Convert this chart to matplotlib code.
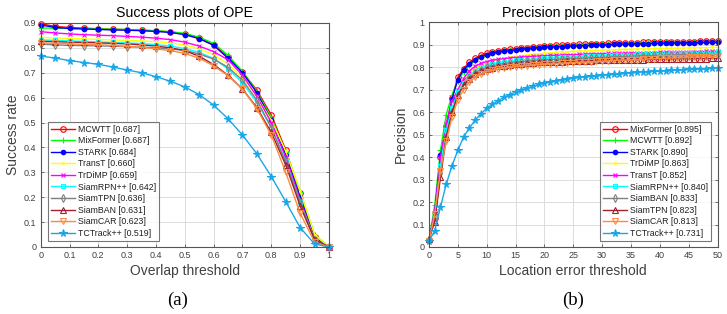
import matplotlib
matplotlib.use("Agg")
import matplotlib.pyplot as plt
import numpy as np

plt.rcParams['font.family'] = ['Liberation Sans', 'DejaVu Sans']

# ---------------- data ----------------
overlap_thr = [0.0, 0.05, 0.1, 0.15, 0.2, 0.25, 0.3, 0.35, 0.4, 0.45, 0.5,
               0.55, 0.6, 0.65, 0.7, 0.75, 0.8, 0.85, 0.9, 0.95, 1.0]

success_labels = ["MCWTT [0.687]", "MixFormer [0.687]", "STARK [0.684]", "TransT [0.660]",
                  "TrDiMP [0.659]", "SiamRPN++ [0.642]", "SiamTPN [0.636]", "SiamBAN [0.631]",
                  "SiamCAR [0.623]", "TCTrack++ [0.519]"]

succ_1 = [0.897, 0.886, 0.882, 0.879, 0.877, 0.875, 0.873, 0.871, 0.868, 0.864, 0.856, 0.840, 0.812, 0.765, 0.703, 0.630, 0.530, 0.390, 0.215, 0.040, 0.0]
succ_2 = [0.880, 0.879, 0.878, 0.877, 0.876, 0.875, 0.874, 0.872, 0.869, 0.865, 0.858, 0.843, 0.818, 0.770, 0.705, 0.625, 0.520, 0.380, 0.220, 0.050, 0.0]
succ_3 = [0.892, 0.882, 0.878, 0.876, 0.874, 0.872, 0.871, 0.869, 0.866, 0.862, 0.853, 0.837, 0.810, 0.758, 0.700, 0.620, 0.510, 0.370, 0.200, 0.035, 0.0]
succ_4 = [0.842, 0.840, 0.838, 0.836, 0.834, 0.832, 0.830, 0.828, 0.825, 0.820, 0.812, 0.797, 0.772, 0.735, 0.682, 0.605, 0.510, 0.385, 0.225, 0.050, 0.0]
succ_5 = [0.865, 0.860, 0.856, 0.853, 0.851, 0.849, 0.846, 0.843, 0.839, 0.833, 0.823, 0.807, 0.785, 0.752, 0.690, 0.605, 0.500, 0.360, 0.190, 0.030, 0.0]
succ_6 = [0.832, 0.830, 0.828, 0.826, 0.824, 0.822, 0.820, 0.817, 0.813, 0.807, 0.797, 0.782, 0.757, 0.715, 0.660, 0.580, 0.480, 0.345, 0.180, 0.030, 0.0]
succ_7 = [0.815, 0.812, 0.810, 0.809, 0.808, 0.807, 0.805, 0.803, 0.800, 0.796, 0.790, 0.775, 0.755, 0.722, 0.670, 0.590, 0.480, 0.340, 0.180, 0.030, 0.0]
succ_8 = [0.826, 0.825, 0.823, 0.822, 0.820, 0.818, 0.816, 0.812, 0.807, 0.800, 0.789, 0.766, 0.733, 0.690, 0.635, 0.560, 0.460, 0.330, 0.165, 0.030, 0.0]
succ_9 = [0.820, 0.818, 0.816, 0.814, 0.812, 0.810, 0.806, 0.802, 0.796, 0.789, 0.778, 0.758, 0.728, 0.688, 0.635, 0.555, 0.450, 0.300, 0.135, 0.020, 0.0]
succ_10 = [0.767, 0.759, 0.749, 0.741, 0.734, 0.723, 0.711, 0.700, 0.684, 0.666, 0.643, 0.612, 0.570, 0.515, 0.450, 0.374, 0.283, 0.182, 0.078, 0.012, 0.0]

loc_thr = list(range(0, 51))

precision_labels = ["MixFormer [0.895]", "MCWTT [0.892]", "STARK [0.890]", "TrDiMP [0.863]",
                    "TransT [0.852]", "SiamRPN++ [0.840]", "SiamBAN [0.833]", "SiamTPN [0.823]",
                    "SiamCAR [0.813]", "TCTrack++ [0.731]"]

prec_1 = [0.030, 0.130, 0.400, 0.540, 0.665, 0.755, 0.795, 0.822, 0.840, 0.853, 0.862,
          0.868, 0.873, 0.877, 0.880, 0.883, 0.886, 0.888, 0.891, 0.893, 0.895,
          0.897, 0.898, 0.899, 0.900, 0.901, 0.902, 0.903, 0.904, 0.905, 0.906,
          0.907, 0.907, 0.908, 0.909, 0.909, 0.910, 0.911, 0.911, 0.912, 0.912,
          0.913, 0.913, 0.914, 0.914, 0.915, 0.915, 0.916, 0.916, 0.917, 0.917]
prec_2 = [0.030, 0.185, 0.430, 0.590, 0.677, 0.740, 0.780, 0.810, 0.830, 0.845, 0.855,
          0.862, 0.868, 0.872, 0.876, 0.879, 0.882, 0.885, 0.888, 0.890, 0.892,
          0.894, 0.895, 0.896, 0.897, 0.898, 0.899, 0.900, 0.901, 0.902, 0.903,
          0.904, 0.905, 0.906, 0.906, 0.907, 0.908, 0.908, 0.909, 0.910, 0.910,
          0.911, 0.911, 0.912, 0.912, 0.913, 0.913, 0.914, 0.914, 0.915, 0.915]
prec_3 = [0.030, 0.150, 0.410, 0.520, 0.660, 0.745, 0.790, 0.815, 0.835, 0.848, 0.857,
          0.863, 0.868, 0.872, 0.875, 0.878, 0.881, 0.884, 0.886, 0.888, 0.890,
          0.891, 0.892, 0.893, 0.894, 0.895, 0.896, 0.897, 0.898, 0.899, 0.900,
          0.901, 0.902, 0.903, 0.903, 0.904, 0.905, 0.905, 0.906, 0.907, 0.907,
          0.908, 0.908, 0.909, 0.909, 0.910, 0.910, 0.911, 0.911, 0.912, 0.912]
prec_4 = [0.030, 0.120, 0.330, 0.500, 0.600, 0.680, 0.740, 0.770, 0.795, 0.810, 0.820,
          0.828, 0.835, 0.840, 0.845, 0.849, 0.852, 0.855, 0.858, 0.861, 0.863,
          0.865, 0.867, 0.869, 0.870, 0.872, 0.873, 0.874, 0.875, 0.876, 0.877,
          0.878, 0.879, 0.880, 0.880, 0.881, 0.882, 0.882, 0.883, 0.884, 0.884,
          0.885, 0.885, 0.886, 0.886, 0.887, 0.887, 0.888, 0.888, 0.889, 0.889]
prec_5 = [0.030, 0.160, 0.400, 0.550, 0.650, 0.700, 0.750, 0.785, 0.805, 0.818, 0.826,
          0.832, 0.836, 0.839, 0.842, 0.844, 0.846, 0.848, 0.849, 0.851, 0.852,
          0.853, 0.854, 0.855, 0.856, 0.857, 0.858, 0.859, 0.860, 0.860, 0.861,
          0.862, 0.862, 0.863, 0.864, 0.864, 0.865, 0.865, 0.866, 0.866, 0.867,
          0.867, 0.868, 0.868, 0.869, 0.869, 0.870, 0.870, 0.871, 0.871, 0.872]
prec_6 = [0.030, 0.130, 0.360, 0.520, 0.620, 0.690, 0.730, 0.760, 0.785, 0.800, 0.810,
          0.816, 0.821, 0.825, 0.828, 0.831, 0.833, 0.835, 0.837, 0.839, 0.840,
          0.842, 0.843, 0.845, 0.846, 0.847, 0.848, 0.849, 0.850, 0.851, 0.852,
          0.853, 0.854, 0.855, 0.856, 0.857, 0.858, 0.858, 0.859, 0.860, 0.861,
          0.861, 0.862, 0.863, 0.863, 0.864, 0.865, 0.865, 0.866, 0.866, 0.867]
prec_7 = [0.030, 0.120, 0.330, 0.490, 0.600, 0.675, 0.720, 0.755, 0.775, 0.790, 0.800,
          0.807, 0.813, 0.817, 0.821, 0.824, 0.826, 0.828, 0.830, 0.832, 0.833,
          0.835, 0.836, 0.838, 0.839, 0.840, 0.841, 0.842, 0.843, 0.844, 0.845,
          0.846, 0.847, 0.848, 0.849, 0.850, 0.851, 0.852, 0.852, 0.853, 0.854,
          0.855, 0.855, 0.856, 0.857, 0.857, 0.858, 0.859, 0.859, 0.860, 0.861]
prec_8 = [0.035, 0.113, 0.310, 0.490, 0.600, 0.675, 0.720, 0.750, 0.770, 0.783, 0.792,
          0.799, 0.804, 0.808, 0.811, 0.814, 0.816, 0.818, 0.820, 0.822, 0.823,
          0.824, 0.825, 0.826, 0.827, 0.828, 0.829, 0.829, 0.830, 0.831, 0.831,
          0.832, 0.832, 0.833, 0.834, 0.834, 0.835, 0.835, 0.836, 0.836, 0.837,
          0.837, 0.837, 0.838, 0.838, 0.838, 0.839, 0.839, 0.839, 0.840, 0.840]
prec_9 = [0.025, 0.145, 0.340, 0.470, 0.580, 0.655, 0.700, 0.735, 0.755, 0.770, 0.780,
          0.787, 0.792, 0.797, 0.800, 0.803, 0.806, 0.808, 0.810, 0.812, 0.813,
          0.815, 0.817, 0.818, 0.820, 0.821, 0.823, 0.824, 0.825, 0.827, 0.828,
          0.829, 0.831, 0.832, 0.833, 0.834, 0.835, 0.836, 0.838, 0.839, 0.840,
          0.841, 0.842, 0.843, 0.844, 0.845, 0.846, 0.847, 0.848, 0.849, 0.850]
prec_10 = [0.025, 0.073, 0.178, 0.280, 0.362, 0.430, 0.490, 0.530, 0.565, 0.593, 0.617,
           0.636, 0.652, 0.666, 0.679, 0.690, 0.700, 0.708, 0.716, 0.724, 0.731,
           0.736, 0.741, 0.745, 0.749, 0.752, 0.755, 0.758, 0.761, 0.763, 0.766,
           0.768, 0.770, 0.772, 0.774, 0.776, 0.778, 0.780, 0.781, 0.783, 0.784,
           0.786, 0.787, 0.788, 0.790, 0.791, 0.792, 0.793, 0.794, 0.796, 0.797]

success_series = [succ_1, succ_2, succ_3, succ_4, succ_5, succ_6, succ_7, succ_8, succ_9, succ_10]
precision_series = [prec_1, prec_2, prec_3, prec_4, prec_5, prec_6, prec_7, prec_8, prec_9, prec_10]

# ---------------- styles (by rank) ----------------
styles = [
    dict(color='#FF0000', marker='o', mfc='none', ms=4.0),
    dict(color='#00FF00', marker='+', mfc='none', ms=4.5),
    dict(color='#0000FF', marker='o', mfc='#0000FF', ms=3.2),
    dict(color='#FFFF00', marker='.', mfc='#FFFF00', ms=2.5),
    dict(color='#FF00FF', marker='x', mfc='none', ms=3.5),
    dict(color='#00FFFF', marker='s', mfc='none', ms=3.5),
    dict(color='#808080', marker='d', mfc='none', ms=4.0),
    dict(color='#A0202F', marker='^', mfc='none', ms=4.5),
    dict(color='#FF8A3D', marker='v', mfc='none', ms=4.5),
    dict(color='#1AA7E8', marker='*', mfc='#1AA7E8', ms=5.5),
]

axis_col = '#555555'
text_col = '#404040'

fig = plt.figure(figsize=(7.27, 3.14), dpi=100)
ax1 = fig.add_axes([0.056, 0.2134, 0.3965, 0.7134])
ax2 = fig.add_axes([0.590, 0.2134, 0.397, 0.7150])


def style_axes(ax):
    ax.grid(True, color='#DDDDDD', linewidth=0.7)
    ax.set_axisbelow(True)
    for sp in ax.spines.values():
        sp.set_color(axis_col)
        sp.set_linewidth(0.8)
    ax.tick_params(direction='in', length=2.5, width=0.6, colors=axis_col,
                   labelsize=6.5, labelcolor=text_col, top=True, right=True,
                   labeltop=False, labelright=False, pad=3)


def make_legend(ax, loc, anchor):
    leg = ax.legend(loc=loc, bbox_to_anchor=anchor, fontsize=6.3, frameon=True,
                    fancybox=False, edgecolor=axis_col, handlelength=2.8, handletextpad=0.35,
                    borderpad=0.35, labelspacing=0.29, borderaxespad=0.2)
    leg.get_frame().set_linewidth(0.8)
    for t in leg.get_texts():
        t.set_color('#202020')
    return leg


for vals, lab, st in zip(success_series, success_labels, styles):
    ax1.plot(overlap_thr, vals, color=st['color'], marker=st['marker'], mfc=st['mfc'],
             mec=st['color'], ms=st['ms'], lw=1.0, mew=0.8, label=lab, clip_on=False)
ax1.set_xlim(0, 1)
ax1.set_ylim(0, 0.9)
ax1.set_xticks(np.arange(0, 1.01, 0.1))
ax1.set_xticklabels(['0', '0.1', '0.2', '0.3', '0.4', '0.5', '0.6', '0.7', '0.8', '0.9', '1'])
ax1.set_yticks(np.arange(0, 0.91, 0.1))
ax1.set_yticklabels(['0', '0.1', '0.2', '0.3', '0.4', '0.5', '0.6', '0.7', '0.8', '0.9'])
style_axes(ax1)
ax1.set_title('Success plots of OPE', fontsize=10.2, color='#000000', pad=4)
ax1.set_xlabel('Overlap threshold', fontsize=10, color=text_col, labelpad=3)
ax1.set_ylabel('Success rate', fontsize=10, color=text_col, labelpad=3)
make_legend(ax1, 'lower left', (0.018, 0.02))

for vals, lab, st in zip(precision_series, precision_labels, styles):
    ax2.plot(loc_thr, vals, color=st['color'], marker=st['marker'], mfc=st['mfc'],
             mec=st['color'], ms=st['ms'], lw=1.0, mew=0.8, label=lab, clip_on=False)
ax2.set_xlim(0, 50)
ax2.set_ylim(0, 1)
ax2.set_xticks(np.arange(0, 51, 5))
ax2.set_yticks(np.arange(0, 1.01, 0.1))
ax2.set_yticklabels(['0', '0.1', '0.2', '0.3', '0.4', '0.5', '0.6', '0.7', '0.8', '0.9', '1'])
style_axes(ax2)
ax2.set_title('Precision plots of OPE', fontsize=10.2, color='#000000', pad=4)
ax2.set_xlabel('Location error threshold', fontsize=10, color=text_col, labelpad=3)
ax2.set_ylabel('Precision', fontsize=10, color=text_col, labelpad=3)
make_legend(ax2, 'lower right', (0.985, 0.02))

fig.text(0.244, 0.043, '(a)', fontsize=13.5, family=['Liberation Serif', 'DejaVu Serif'],
         ha='center', va='center', color='black')
fig.text(0.788, 0.043, '(b)', fontsize=13.5, family=['Liberation Serif', 'DejaVu Serif'],
         ha='center', va='center', color='black')

fig.savefig('out.png', dpi=100)
